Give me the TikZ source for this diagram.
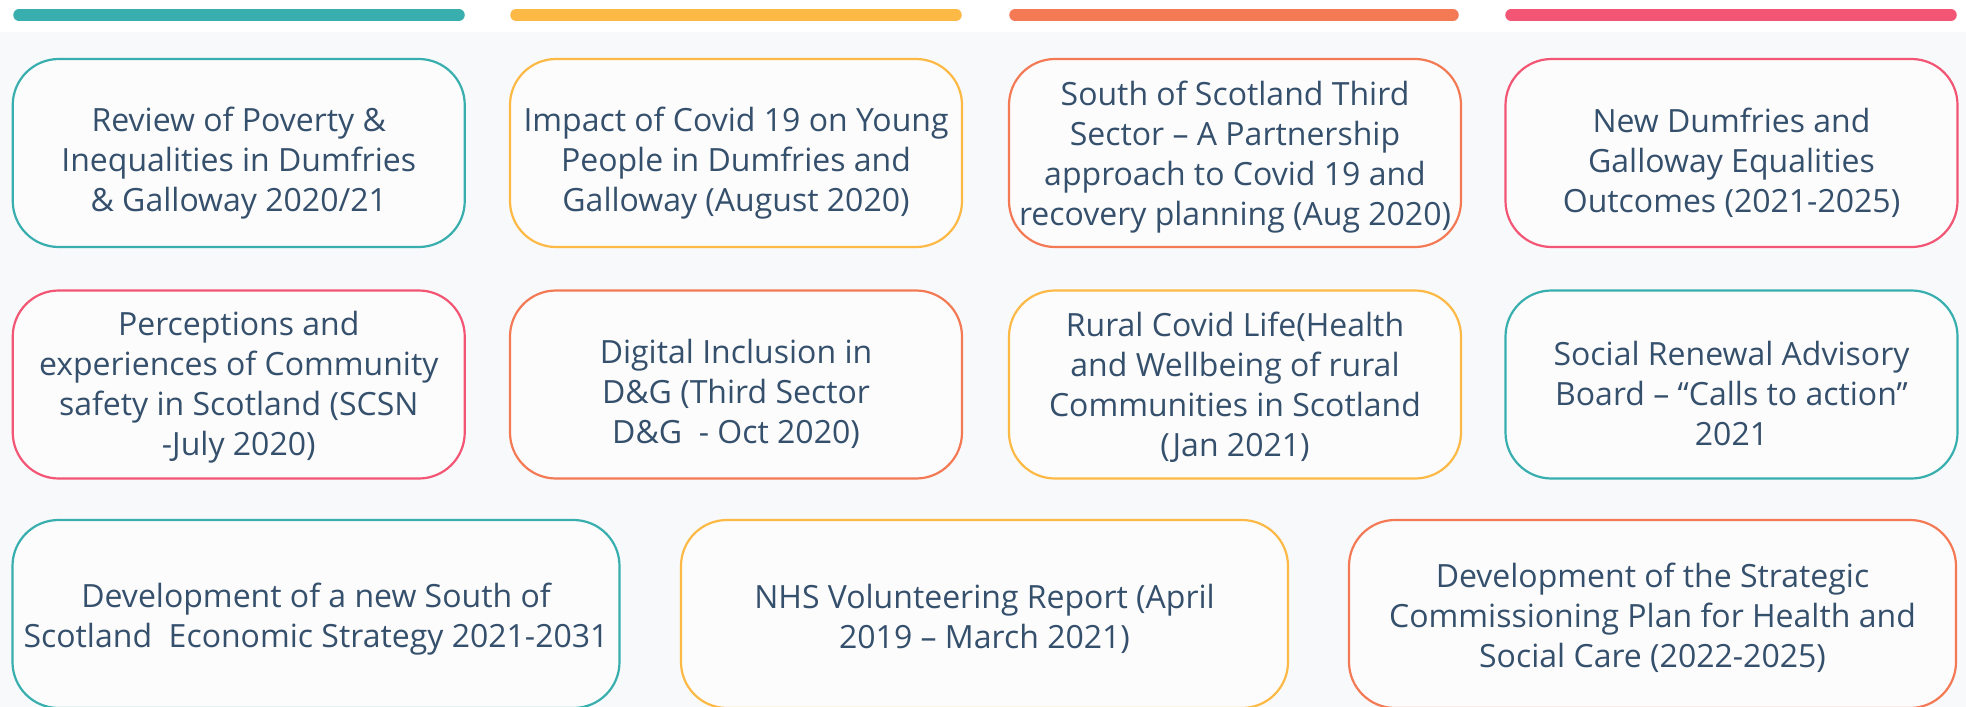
\documentclass[tikz,border=0pt]{standalone}
\usepackage{fontspec}
\setmainfont{Open Sans}
\definecolor{cteal}{HTML}{38AFAE}
\definecolor{cyellow}{HTML}{FDB945}
\definecolor{corange}{HTML}{F47A55}
\definecolor{cpink}{HTML}{F25674}
\definecolor{ink}{HTML}{35506C}
\definecolor{boxfill}{HTML}{FDFCFC}
\definecolor{pagebg}{HTML}{F8F9FA}
\tikzset{
  card/.style={draw=#1, line width=2.2pt, rounded corners=46pt, fill=boxfill,
    minimum height=188pt, inner sep=0pt},
  small card/.style={card=#1, minimum width=452pt},
  wide card/.style={card=#1, minimum width=607pt},
  caption/.style={text=ink, align=center, inner sep=0pt,
    font=\fontsize{32}{40}\selectfont},
  topbar/.style={draw=#1, line width=11.5pt, line cap=round}
}
\begin{document}
\begin{tikzpicture}[x=1pt,y=-1pt]
\useasboundingbox (0,0) rectangle (1966,707);
\clip (0,0) rectangle (1966,707);
% page background with a white header strip
\fill[pagebg] (0,0) rectangle (1966,707);
\fill[white] (0,0) rectangle (1966,32);
% coloured header bars
\draw[topbar=cteal]   (19,15) -- (459,15);
\draw[topbar=cyellow] (516,15) -- (956,15);
\draw[topbar=corange] (1015,15) -- (1453,15);
\draw[topbar=cpink]   (1511,15) -- (1951,15);
% card outlines
\node[small card=cteal]   (r1a) at (238.75,153) {};
\node[small card=cyellow] (r1b) at (736,153) {};
\node[small card=corange] (r1c) at (1235,153) {};
\node[small card=cpink]   (r1d) at (1731.5,153) {};
\node[small card=cpink]   (r2a) at (238.75,384.5) {};
\node[small card=corange] (r2b) at (736,384.5) {};
\node[small card=cyellow] (r2c) at (1235,384.5) {};
\node[small card=cteal]   (r2d) at (1731.5,384.5) {};
\node[wide card=cteal]    (r3a) at (316,614) {};
\node[wide card=cyellow]  (r3b) at (984.5,614) {};
\node[wide card=corange]  (r3c) at (1652.5,614) {};
% card texts
\node[caption] (t1a) at ([yshift=-10pt]r1a.center) {Review of Poverty \&\\Inequalities in Dumfries\\\& Galloway 2020/21};
\node[caption] (t1b) at ([yshift=-10pt]r1b.center) {Impact of Covid 19 on Young\\People in Dumfries and\\Galloway (August 2020)};
\node[caption] (t1c) at ([yshift=-4pt]r1c.center) {South of Scotland Third\\Sector – A Partnership\\approach to Covid 19 and\\recovery planning (Aug 2020)};
\node[caption] (t1d) at ([yshift=-10pt]r1d.center) {New Dumfries and\\Galloway Equalities\\Outcomes (2021-2025)};
\node[caption] (t2a) at ([yshift=-3pt]r2a.center) {Perceptions and\\experiences of Community\\safety in Scotland (SCSN\\-July 2020)};
\node[caption] (t2b) at ([yshift=-9pt]r2b.center) {Digital Inclusion in\\D\&G (Third Sector\\D\&G\ \ - Oct 2020)};
\node[caption] (t2c) at ([yshift=-3pt]r2c.center) {Rural Covid Life(Health\\and Wellbeing of rural\\Communities in Scotland\\(Jan 2021)};
\node[caption] (t2d) at ([yshift=-9pt]r2d.center) {Social Renewal Advisory\\Board – “Calls to action”\\2021};
\node[caption] (t3a) at ([yshift=-5pt]r3a.center) {Development of a new South of\\Scotland\ \ Economic Strategy 2021-2031};
\node[caption] (t3b) at ([yshift=-5pt]r3b.center) {NHS Volunteering Report (April\\2019 – March 2021)};
\node[caption] (t3c) at ([yshift=-4pt]r3c.center) {Development of the Strategic\\Commissioning Plan for Health and\\Social Care (2022-2025)};
\end{tikzpicture}
\end{document}
